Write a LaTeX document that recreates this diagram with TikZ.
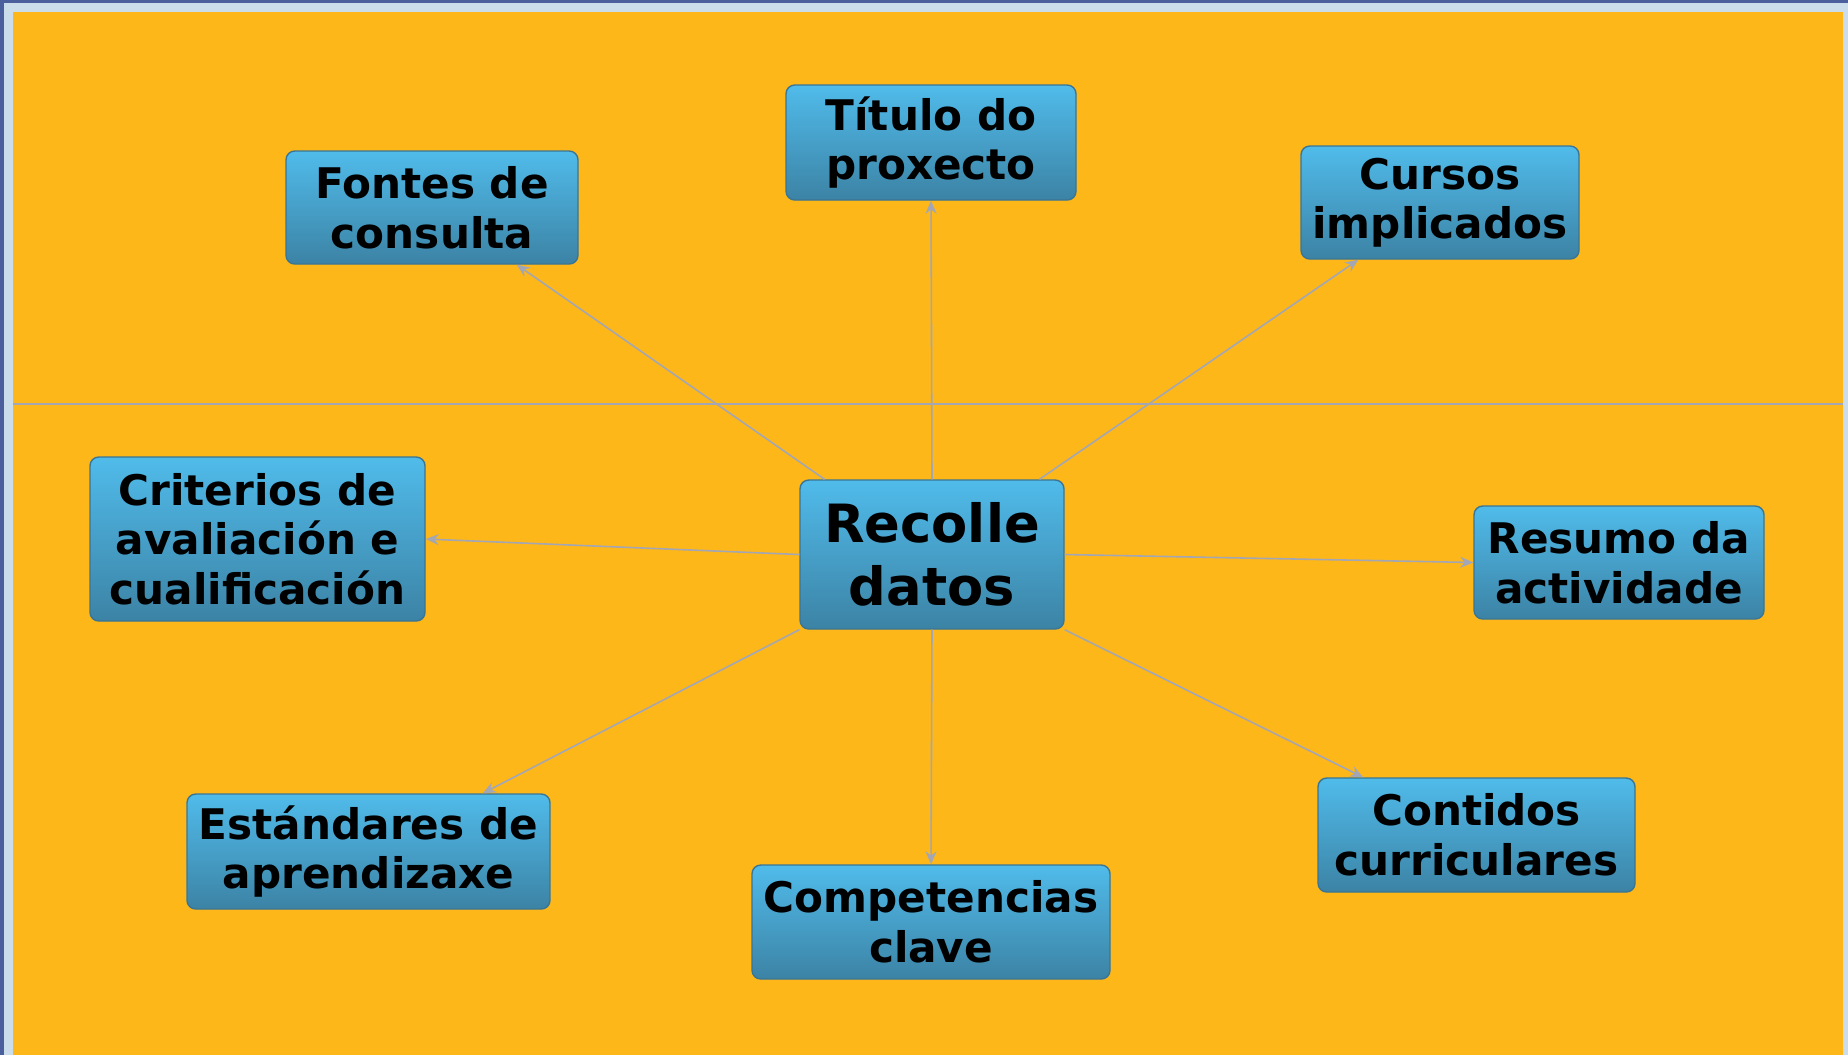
\documentclass[tikz,border=0pt]{standalone}
\usepackage{fontspec}
\setmainfont{DejaVu Sans}
\usetikzlibrary{arrows.meta}
\definecolor{fondo}{HTML}{FDB719}
\definecolor{marco}{HTML}{CBDCEA}
\definecolor{marcoosc}{HTML}{4A5F9C}
\definecolor{boxtop}{HTML}{50BBEA}
\definecolor{boxbot}{HTML}{3C83A5}
\definecolor{boxedge}{HTML}{3A7595}
\definecolor{linegrey}{HTML}{A3A6B4}
\begin{document}
\begin{tikzpicture}[
			box/.style    = {draw=boxedge, rectangle, thin, rounded corners=2.5pt, top color=boxtop, bottom color=boxbot, align=center, inner sep=0pt, font=\bfseries\fontsize{12}{14.1}\selectfont},
			centre/.style = {box, font=\bfseries\fontsize{15}{17.8}\selectfont},
			link/.style   = {-{Stealth[length=1.3mm,width=1.1mm]}, draw=linegrey, line width=0.45pt},
			>=latex]
			
			% frame and background
			\useasboundingbox (0,0) rectangle (18.48,-10.55);
			\fill[marco] (0,0) rectangle (18.48,-10.55);
			\fill[marcoosc] (0,0) rectangle (0.04,-10.55);
			\fill[marcoosc] (0,0) rectangle (18.48,-0.03);
			\fill[fondo] (0.13,-0.12) rectangle (18.43,-10.55);
			\draw[linegrey, line width=0.4pt] (0.13,-4.04) -- (18.43,-4.04);
			
			% centre node
			\node[centre, minimum width=2.64cm, minimum height=1.49cm] (rec) at (9.32,-5.545) {Recolle\\datos};
			
			% outer nodes, clockwise from the top
			\node[box, minimum width=2.90cm, minimum height=1.15cm] (titulo) at (9.31,-1.425) {Título do\\proxecto};
			\node[box, minimum width=2.78cm, minimum height=1.13cm] (cursos) at (14.40,-2.025) {Cursos\\implicados};
			\node[box, minimum width=2.90cm, minimum height=1.13cm] (resumo) at (16.19,-5.625) {Resumo da\\actividade};
			\node[box, minimum width=3.17cm, minimum height=1.14cm] (contidos) at (14.765,-8.35) {Contidos\\curriculares};
			\node[box, minimum width=3.58cm, minimum height=1.14cm] (competencias) at (9.31,-9.22) {Competencias\\clave};
			\node[box, minimum width=3.63cm, minimum height=1.15cm] (estandares) at (3.685,-8.515) {Estándares de\\aprendizaxe};
			\node[box, minimum width=3.35cm, minimum height=1.64cm] (criterios) at (2.575,-5.39) {Criterios de\\avaliación e\\cualificación};
			\node[box, minimum width=2.92cm, minimum height=1.13cm] (fontes) at (4.32,-2.075) {Fontes de\\consulta};
			
			% lines from the centre to every outer node
			\foreach \from/\to in {north/titulo.south, 35/cursos.215, east/resumo.west, south east/contidos.153, south/competencias.north, south west/estandares.27, west/criterios.east, 145/fontes.-34}
			\draw[link] (rec.\from) -- (\to);
		\end{tikzpicture}
\end{document}
